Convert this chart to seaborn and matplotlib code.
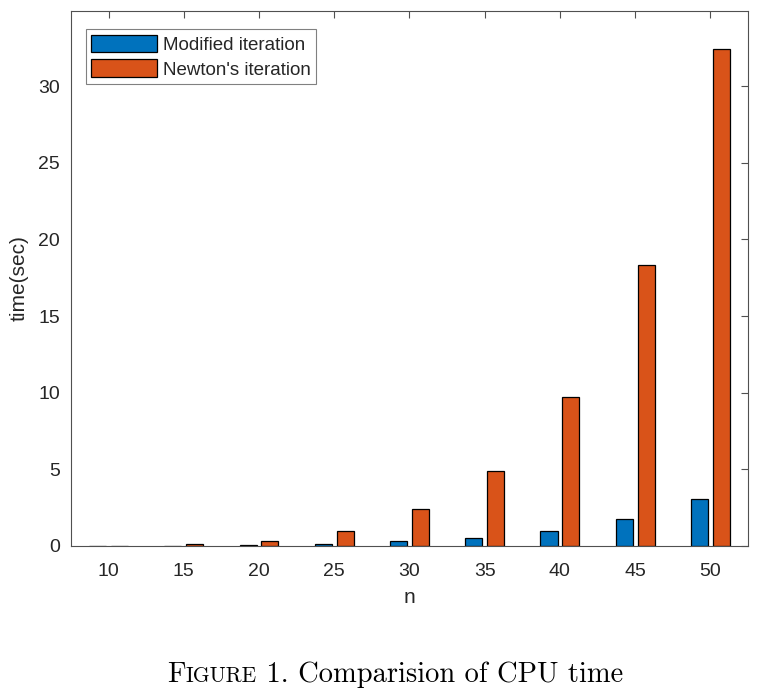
import matplotlib
matplotlib.use("Agg")
import matplotlib.pyplot as plt
from matplotlib.patches import Patch
import seaborn as sns
import pandas as pd

# values
n_values = [10, 15, 20, 25, 30, 35, 40, 45, 50]
modified_time = [0.02, 0.03, 0.04, 0.12, 0.30, 0.54, 1.00, 1.76, 3.05]
newton_time = [0.03, 0.12, 0.32, 0.98, 2.39, 4.87, 9.70, 18.35, 32.45]
series = ["Modified iteration", "Newton's iteration"]
colors = ["#0072BD", "#D95319"]
y_ticks = [0, 5, 10, 15, 20, 25, 30]

df = pd.DataFrame({
    "n": n_values * 2,
    "time": modified_time + newton_time,
    "method": [series[0]] * len(n_values) + [series[1]] * len(n_values),
})

sns.set_theme(style="white")
plt.rcParams["font.family"] = ["Liberation Sans", "DejaVu Sans"]

fig = plt.figure(figsize=(7.68, 6.94), dpi=100)
ax = fig.add_axes([0.0924, 0.2133, 0.8815, 0.7709])

sns.barplot(data=df, x="n", y="time", hue="method", palette=colors,
            saturation=1, width=0.58, gap=0.22, edgecolor="black",
            linewidth=0.9, legend=False, ax=ax)

ax.set_xlim(-0.5, 8.5)
ax.set_ylim(0, 34.9)
ax.set_yticks(y_ticks)
ax.set_xlabel("n", fontsize=15, color="#262626", labelpad=6)
ax.set_ylabel("time(sec)", fontsize=15, color="#262626", labelpad=7)
ax.tick_params(direction="in", top=True, right=True, length=5, width=0.8,
               labelsize=14, color="#505050", labelcolor="#262626", pad=8)
ax.tick_params(axis="x", pad=12)
for sp in ax.spines.values():
    sp.set_visible(True)
    sp.set_color("#505050")
    sp.set_linewidth(0.8)

handles = [Patch(facecolor=c, edgecolor="black", linewidth=0.9) for c in colors]
leg = ax.legend(handles, series, loc="upper left", bbox_to_anchor=(0.0217, 0.966),
                borderaxespad=0, fontsize=13.5, handlelength=3.5, handleheight=1.05,
                labelspacing=0.3, handletextpad=0.3, borderpad=0.3,
                fancybox=False, framealpha=1)
leg.get_frame().set_edgecolor("#808080")
leg.get_frame().set_linewidth(0.8)

# caption with small caps "Figure"
parts = [("F", 20.5), ("IGURE", 15.5), (" 1. Comparision of CPU time", 20.5)]
texts = [fig.text(0, 0.017, s, fontsize=sz, family="cmr10", va="baseline", color="black")
         for s, sz in parts]
renderer = fig.canvas.get_renderer()
widths = [t.get_window_extent(renderer).width for t in texts]
x = 395 - sum(widths) / 2
for t, w in zip(texts, widths):
    t.set_x(x / 768)
    x += w

fig.savefig("out.png", dpi=100)
